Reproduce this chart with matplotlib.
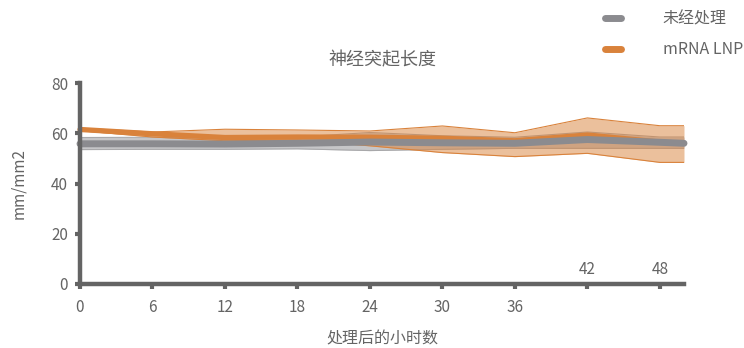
import matplotlib
matplotlib.use("Agg")
import matplotlib.pyplot as plt
from matplotlib.lines import Line2D

plt.rcParams["font.family"] = ["Noto Sans CJK SC", "DejaVu Sans"]

# hours after treatment and neurite length (mm/mm2)
hours = [0, 6, 12, 18, 24, 30, 36, 42, 48, 50]
ctrl_mean = [55.8, 55.8, 55.7, 56.0, 56.5, 56.2, 56.0, 57.5, 56.4, 56.0]
ctrl_lo = [53.5, 53.6, 53.6, 53.8, 53.1, 53.6, 54.0, 54.0, 54.0, 54.0]
ctrl_hi = [58.3, 58.4, 58.0, 58.5, 60.3, 59.0, 58.4, 60.5, 58.5, 58.5]
lnp_mean = [61.5, 59.8, 58.3, 58.5, 58.4, 58.0, 57.0, 59.3, 56.5, 56.0]
lnp_lo = [61.0, 58.5, 57.0, 57.3, 55.0, 52.3, 50.7, 52.0, 48.4, 48.4]
lnp_hi = [62.0, 60.5, 61.6, 61.3, 60.9, 62.9, 60.2, 66.1, 63.0, 63.0]

x_ticks = [0, 6, 12, 18, 24, 30, 36, 42, 48]
y_ticks = [0, 20, 40, 60, 80]
series_names = ["未经处理", "mRNA LNP"]

AXIS_C = "#646464"
GRAY = "#8b8b8f"
ORANGE = "#d9823b"

fig = plt.figure(figsize=(7.44, 3.48), dpi=100)
ax = fig.add_axes([80 / 744, 1 - 284 / 348, 604 / 744, 201 / 348])

ax.fill_between(hours, ctrl_lo, ctrl_hi, color="#c6c6c8", lw=0, zorder=1)
ax.plot(hours, ctrl_lo, color="#a8a8aa", lw=0.8, zorder=1.1)
ax.plot(hours, ctrl_hi, color="#a8a8aa", lw=0.8, zorder=1.1)
ax.fill_between(hours, lnp_lo, lnp_hi, color=ORANGE, alpha=0.5, lw=0, zorder=2)
ax.plot(hours, lnp_lo, color=ORANGE, lw=0.8, zorder=2.1)
ax.plot(hours, lnp_hi, color=ORANGE, lw=0.8, zorder=2.1)
ax.plot(hours, lnp_mean, color=ORANGE, lw=3.8, solid_capstyle="round", zorder=3, clip_on=False)
ax.plot(hours, ctrl_mean, color=GRAY, lw=5, solid_capstyle="round", zorder=4, clip_on=False)

ax.set_xlim(0, 50)
ax.set_ylim(0, 80)
for s in ["top", "right"]:
    ax.spines[s].set_visible(False)
for s in ["left", "bottom"]:
    ax.spines[s].set_color(AXIS_C)
    ax.spines[s].set_linewidth(3.2)
    ax.spines[s].set_zorder(5)

ax.set_yticks(y_ticks)
ax.set_xticks(x_ticks)
ax.set_xticklabels([str(t) if t < 42 else "" for t in x_ticks])
ax.tick_params(axis="both", direction="out", length=3.5, width=3, color=AXIS_C,
               labelcolor=AXIS_C, labelsize=11)
ax.tick_params(axis="x", pad=7)
ax.tick_params(axis="y", pad=5)
for t in x_ticks:
    if t >= 42:
        ax.annotate(str(t), xy=(t, 0), xytext=(0, 4), textcoords="offset points",
                    ha="center", va="bottom", fontsize=11, color=AXIS_C)

ax.set_ylabel("mm/mm2", fontsize=11, color=AXIS_C, labelpad=17)
ax.set_xlabel("处理后的小时数", fontsize=11.5, color=AXIS_C, labelpad=11)
ax.set_title("神经突起长度", fontsize=13, color=AXIS_C, pad=13)

handles = [Line2D([], [], color=GRAY, lw=5, solid_capstyle="round"),
           Line2D([], [], color=ORANGE, lw=5, solid_capstyle="round")]
leg = fig.legend(handles, series_names, loc="upper right", bbox_to_anchor=(1.018, 1.01),
                 frameon=False, fontsize=11.5, handlelength=1.0, handletextpad=2.6,
                 labelspacing=0.85, labelcolor=AXIS_C)

fig.savefig("out.png", dpi=100)
